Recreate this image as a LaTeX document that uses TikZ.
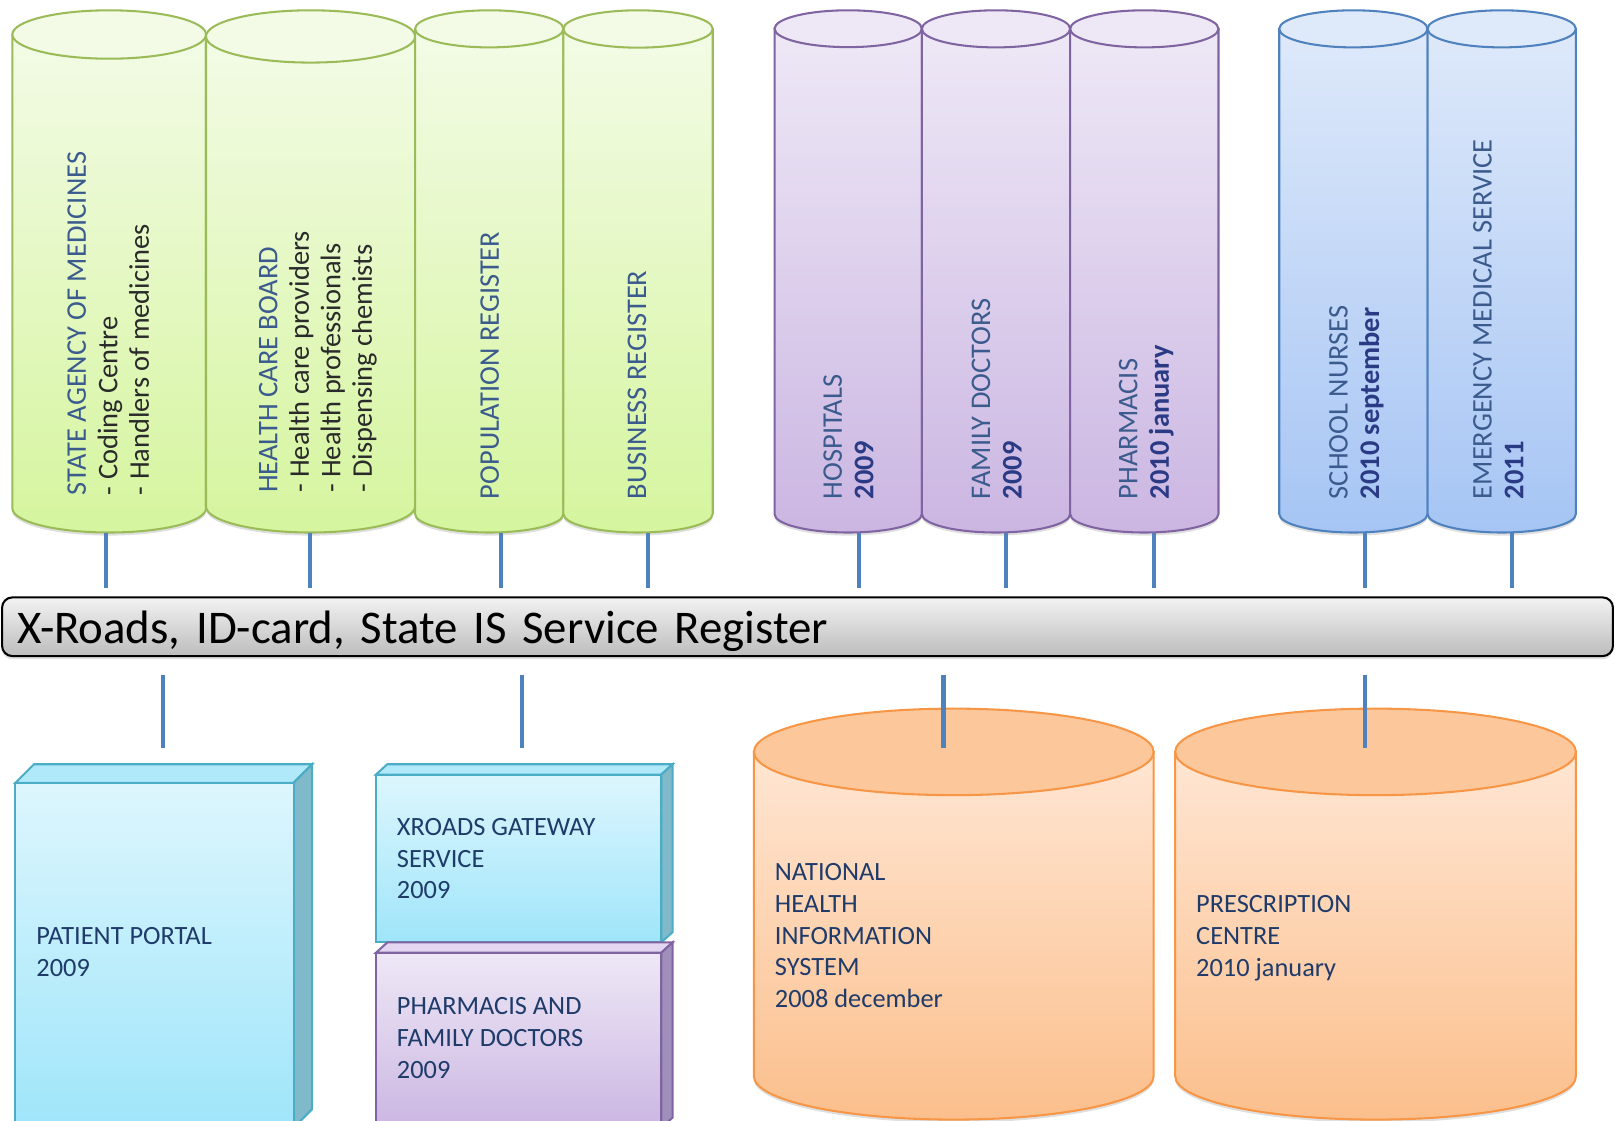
\documentclass[tikz,border=0pt]{standalone}
\usepackage{fontspec}
\setmainfont{Carlito}
\usetikzlibrary{shadows}

\definecolor{grnT}{HTML}{F3FBE6}
\definecolor{grnB}{HTML}{D5F59E}
\definecolor{grnE}{HTML}{9BBB59}
\definecolor{vioT}{HTML}{EEE8F6}
\definecolor{vioB}{HTML}{CBB6E2}
\definecolor{vioE}{HTML}{8064A2}
\definecolor{bluT}{HTML}{DEE9FA}
\definecolor{bluB}{HTML}{A6C5F4}
\definecolor{bluE}{HTML}{4F81BD}
\definecolor{orgT}{HTML}{FFE6D3}
\definecolor{orgB}{HTML}{FBBF8C}
\definecolor{orgE}{HTML}{F79646}
\definecolor{orgL}{HTML}{FCC89B}
\definecolor{cyaT}{HTML}{DDF6FD}
\definecolor{cyaB}{HTML}{9FE5FA}
\definecolor{cyaE}{HTML}{4BACC6}
\definecolor{cyaS}{HTML}{7FB9CA}
\definecolor{cyaL}{HTML}{B0EAFA}
\definecolor{lilS}{HTML}{A08FBA}
\definecolor{lilL}{HTML}{E2D6F1}
\definecolor{stubblue}{HTML}{4F81BD}
\definecolor{headblue}{HTML}{3B5B8E}
\definecolor{yearblue}{HTML}{2B3A85}
\definecolor{subtxt}{HTML}{2A2A2A}
\definecolor{lowtxt}{HTML}{1F3B6A}

\newcommand{\yearnote}[1]{\textcolor{yearblue}{\bfseries #1}}

\begin{document}
\begin{tikzpicture}[x=0.5pt, y=-0.5pt,
    rim/.style={line width=1pt},
    shade/.style={drop shadow={shadow xshift=0pt, shadow yshift=-1.5pt, opacity=.25}},
    stub/.style={stubblue, line width=2pt},
    vlab/.style={rotate=90, anchor=north west, align=left, inner sep=0pt, text=headblue,
        font=\fontsize{13.8}{15.3}\selectfont},
    lowlab/.style={anchor=north west, align=left, inner sep=0pt, text=lowtxt,
        font=\fontsize{12.8}{15.4}\selectfont},
    band/.style={draw=black, line width=1pt, rounded corners=5pt, shade,
        top color=white!95!black, bottom color=white!74!black,
        minimum width=782pt, minimum height=28.5pt, inner xsep=7.5pt, text width=767pt,
        align=left, text height=16pt, text depth=0pt, font=\fontsize{22.75}{28}\selectfont}]
    \useasboundingbox (0,0) rectangle (1568,1088);

    % registers (top row)
    \foreach \xa/\xb/\ct/\cb/\ce in {12/200/grnT/grnB/grnE, 200/403/grnT/grnB/grnE,
        403/547/grnT/grnB/grnE, 547/692/grnT/grnB/grnE, 752/895/vioT/vioB/vioE,
        895/1039/vioT/vioB/vioE, 1039/1183/vioT/vioB/vioE, 1242/1386/bluT/bluB/bluE,
        1386/1530/bluT/bluB/bluE}{
        \pgfmathsetmacro\rx{(\xb-\xa)/2}
        \pgfmathsetmacro\ry{0.125*(\xb-\xa)}
        \pgfmathsetmacro\yt{10+\ry}
        \pgfmathsetmacro\yb{517-\ry}
        \draw[rim, shade, draw=\ce, top color=\ct, bottom color=\cb] (\xa,\yt) -- (\xa,\yb)
            arc[start angle=180, end angle=0, x radius=\rx, y radius=\ry] -- (\xb,\yt) -- cycle;
        \draw[rim, draw=\ce, fill=\ct] (\xa+\rx,\yt) ellipse[x radius=\rx, y radius=\ry];
    }

    \node[vlab] (sam) at (65,481) {STATE AGENCY OF MEDICINES\\
        \textcolor{subtxt}{- Coding Centre}\\ \textcolor{subtxt}{- Handlers of medicines}};
    \node[vlab] (hcb) at (251,479) {HEALTH CARE BOARD\\
        \textcolor{subtxt}{- Health care providers}\\ \textcolor{subtxt}{- Health professionals}\\
        \textcolor{subtxt}{- Dispensing chemists}};
    \node[vlab] (popreg) at (466,485) {POPULATION REGISTER};
    \node[vlab] (busreg) at (609,485) {BUSINESS REGISTER};
    \node[vlab] (hosp) at (799,485) {HOSPITALS\\ \yearnote{2009}};
    \node[vlab] (famdoc) at (943,485) {FAMILY DOCTORS\\ \yearnote{2009}};
    \node[vlab] (pharm) at (1086,485) {PHARMACIS\\ \yearnote{2010 january}};
    \node[vlab] (nurse) at (1290,485) {SCHOOL NURSES\\ \yearnote{2010 september}};
    \node[vlab] (ems) at (1430,485) {EMERGENCY MEDICAL SERVICE\\ \yearnote{2011}};

    % links to the bus
    \foreach \sx [count=\i] in {103,301,486,629,834,977,1120,1325,1468}{
        \coordinate (reg\i) at (\sx,517);
        \coordinate (bus\i) at (\sx,571);
        \draw[stub] (reg\i) -- (bus\i);
    }

    % bus
    \node[band] (xroad) at (784,608.5) {X-Roads, ID-card, State IS Service Register};

    % patient portal
    \draw[rim, draw=cyaE, fill=cyaL] (15,760) -- (33,742) -- (303,742) -- (285,760) -- cycle;
    \draw[rim, draw=cyaE, fill=cyaS] (285,760) -- (303,742) -- (303,1077) -- (285,1095) -- cycle;
    \draw[rim, draw=cyaE, top color=cyaT, bottom color=cyaB] (15,760) rectangle (285,1095);
    \node[lowlab] (portal) at (35,900) {PATIENT PORTAL\\ 2009};

    % gateway
    \draw[rim, draw=cyaE, fill=cyaL] (365,752) -- (376,742) -- (653,742) -- (642,752) -- cycle;
    \draw[rim, draw=cyaE, fill=cyaS] (642,752) -- (653,742) -- (653,905) -- (642,915) -- cycle;
    \draw[rim, draw=cyaE, top color=cyaT, bottom color=cyaB] (365,752) rectangle (642,915);
    \node[lowlab] (gateway) at (385,794) {XROADS GATEWAY\\ SERVICE\\ 2009};

    \draw[rim, draw=vioE, fill=lilL] (365,925) -- (376,915) -- (653,915) -- (642,925) -- cycle;
    \draw[rim, draw=vioE, fill=lilS] (642,925) -- (653,915) -- (653,1085) -- (642,1095) -- cycle;
    \draw[rim, draw=vioE, top color=vioT, bottom color=vioB] (365,925) rectangle (642,1095);
    \node[lowlab] (pharmfam) at (385,968) {PHARMACIS AND\\ FAMILY DOCTORS\\ 2009};

    % databases
    \foreach \xa/\xb in {732/1120, 1141/1530}{
        \pgfmathsetmacro\rx{(\xb-\xa)/2}
        \draw[rim, shade, draw=orgE, top color=orgT, bottom color=orgB] (\xa,730) -- (\xa,1045)
            arc[start angle=180, end angle=0, x radius=\rx, y radius=42] -- (\xb,730) -- cycle;
        \draw[rim, draw=orgE, fill=orgL] (\xa+\rx,730) ellipse[x radius=\rx, y radius=42];
    }
    \node[lowlab] (nhis) at (752,838) {NATIONAL\\ HEALTH\\ INFORMATION\\ SYSTEM\\ 2008 december};
    \node[lowlab] (presc) at (1161,869) {PRESCRIPTION\\ CENTRE\\ 2010 january};

    % links from the bus
    \foreach \sx [count=\i] in {158,507,916,1325}{
        \coordinate (low\i) at (\sx,655);
        \coordinate (dip\i) at (\sx,726);
        \draw[stub] (low\i) -- (dip\i);
    }
\end{tikzpicture}
\end{document}
